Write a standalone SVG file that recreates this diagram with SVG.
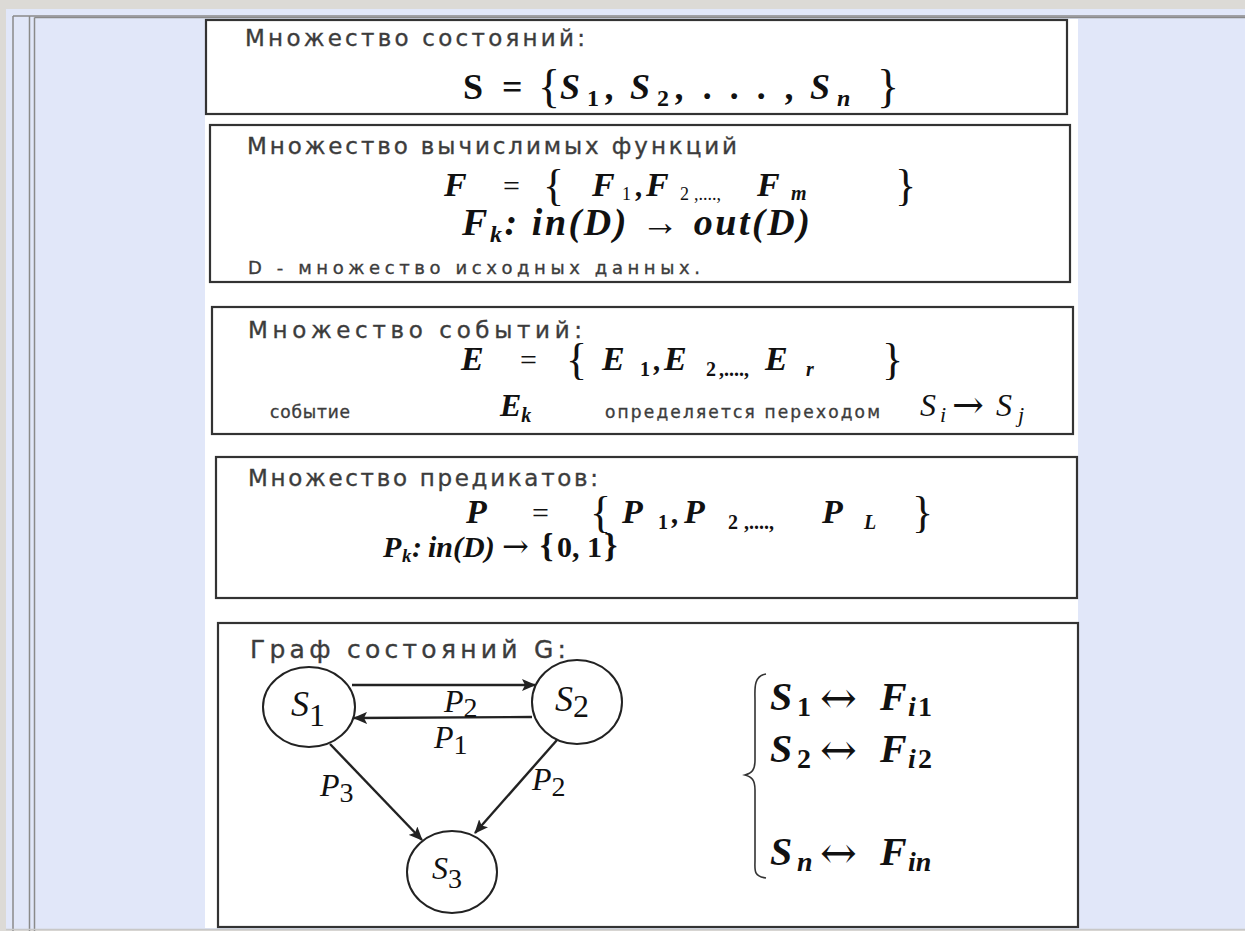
<svg xmlns="http://www.w3.org/2000/svg" width="1245" height="931" viewBox="0 0 1245 931">
<defs>
<style>
.frame{fill:none;stroke:#8a8a8a;stroke-width:1.5}
.box{fill:#fff;stroke:#333;stroke-width:2.2}
.ru{font-family:"DejaVu Sans","Noto Sans",sans-serif;fill:#3c3c3c;stroke:#3c3c3c;stroke-width:0.35}
.m{font-family:"Liberation Serif","Times New Roman",serif;fill:#111}
.bi{font-weight:bold;font-style:italic}
.b{font-weight:bold}
.it{font-style:italic}
.ar{font-family:"DejaVu Serif",serif;font-weight:normal;font-style:normal}
.node{fill:#fff;stroke:#222;stroke-width:2}
.edge{fill:none;stroke:#222;stroke-width:2.4}
</style>
<marker id="ah" viewBox="0 0 14 12" refX="13" refY="6" markerWidth="14" markerHeight="12" markerUnits="userSpaceOnUse" orient="auto">
<path d="M0,0 L14,6 L0,12 L3,6 Z" fill="#222"/>
</marker>
</defs>
<rect x="0" y="0" width="1245" height="931" fill="#dcdad6"/>
<rect x="6" y="9" width="1239" height="920" fill="#e1e7f9"/>
<line class="frame" x1="13" y1="16" x2="1245" y2="16"/>
<line class="frame" x1="13" y1="16" x2="13" y2="931"/>
<line class="frame" x1="29.5" y1="16" x2="29.5" y2="931"/>
<line class="frame" x1="34.5" y1="17.5" x2="34.5" y2="931" stroke="#6d6d6d"/>
<line class="frame" x1="34.5" y1="17.5" x2="1245" y2="17.5" stroke="#6d6d6d"/>
<line x1="6" y1="929.5" x2="1245" y2="929.5" stroke="#c8c8c8" stroke-width="1.5"/>
<rect x="205" y="19" width="873" height="909" fill="#fff"/>

<g id="box-states">
<rect class="box" x="206" y="20" width="861" height="94"/>
<text class="ru" x="245" y="46" font-size="23" textLength="340" lengthAdjust="spacing">Множество состояний:</text>
<text class="m b" font-size="36" y="99"><tspan x="463">S</tspan><tspan x="502">=</tspan></text>
<text class="m" x="538" y="102" font-size="46">{</text>
<text class="m bi" font-size="36" y="99"><tspan x="560">S</tspan><tspan x="587" dy="7" font-size="24" font-style="normal">1</tspan><tspan x="606" dy="-7">,</tspan><tspan x="630">S</tspan><tspan x="657" dy="7" font-size="24" font-style="normal">2</tspan><tspan x="676" dy="-7">,</tspan><tspan x="704">.</tspan><tspan x="731">.</tspan><tspan x="758">.</tspan><tspan x="786">,</tspan><tspan x="810">S</tspan><tspan x="837" dy="7" font-size="24">n</tspan></text>
<text class="m" x="877" y="102" font-size="46">}</text>
</g>

<g id="box-functions">
<rect class="box" x="210" y="125" width="860" height="157"/>
<text class="ru" x="247" y="154" font-size="23" textLength="490" lengthAdjust="spacing">Множество вычислимых функций</text>
<text class="m bi" x="444" y="196" font-size="34">F</text>
<text class="m" x="503" y="196" font-size="30">=</text>
<text class="m" x="543" y="200" font-size="44">{</text>
<text class="m bi" font-size="34" y="196"><tspan x="592">F</tspan><tspan x="622" dy="4" font-size="18" font-style="normal" font-weight="normal">1</tspan><tspan x="636" dy="-4" font-size="30">,</tspan><tspan x="646">F</tspan><tspan x="680" dy="4" font-size="18" font-style="normal" font-weight="normal">2</tspan><tspan x="694" font-size="18" font-style="normal" font-weight="normal">,....,</tspan><tspan x="757" dy="-4">F</tspan><tspan x="791" dy="4" font-size="20">m</tspan></text>
<text class="m" x="895" y="200" font-size="44">}</text>
<text class="m bi" x="462" y="235" font-size="38" textLength="348" lengthAdjust="spacing">F<tspan font-size="24" dy="7">k</tspan><tspan dy="-7">: in(D) → out(D)</tspan></text>
<text class="ru" x="248" y="274" font-size="18" textLength="452" lengthAdjust="spacing">D - множество исходных данных.</text>
</g>

<g id="box-events">
<rect class="box" x="212" y="307" width="861" height="127"/>
<text class="ru" x="248" y="338" font-size="23" textLength="334" lengthAdjust="spacing">Множество событий:</text>
<text class="m bi" x="461" y="370" font-size="34">E</text>
<text class="m" x="520" y="370" font-size="30">=</text>
<text class="m" x="566" y="374" font-size="44">{</text>
<text class="m bi" font-size="34" y="370"><tspan x="602">E</tspan><tspan x="640" dy="6" font-size="20" font-style="normal">1</tspan><tspan x="654" dy="-6" font-size="30">,</tspan><tspan x="664">E</tspan><tspan x="706" dy="6" font-size="20" font-style="normal">2</tspan><tspan x="719" font-size="20" font-style="normal">,....,</tspan><tspan x="765" dy="-6">E</tspan><tspan x="806" dy="6" font-size="20">r</tspan></text>
<text class="m" x="882" y="374" font-size="44">}</text>
<text class="ru" x="270" y="418" font-size="17" textLength="80" lengthAdjust="spacing">событие</text>
<text class="m bi" x="500" y="416" font-size="32">E<tspan font-size="20" dy="6">k</tspan></text>
<text class="ru" x="605" y="418" font-size="17" textLength="275" lengthAdjust="spacing">определяется переходом</text>
<text class="m it" font-size="32" y="416"><tspan x="920">S</tspan><tspan x="940" dy="6" font-size="22">i</tspan><tspan x="952" dy="-4" class="ar" font-size="38">→</tspan><tspan x="996" dy="-2">S</tspan><tspan x="1018" dy="6" font-size="22">j</tspan></text>
</g>

<g id="box-predicates">
<rect class="box" x="216" y="457" width="861" height="141"/>
<text class="ru" x="248" y="486" font-size="23" textLength="350" lengthAdjust="spacing">Множество предикатов:</text>
<text class="m bi" x="466" y="523" font-size="34">P</text>
<text class="m" x="532" y="523" font-size="30">=</text>
<text class="m" x="590" y="527" font-size="44">{</text>
<text class="m bi" font-size="34" y="523"><tspan x="622">P</tspan><tspan x="658" dy="6" font-size="20" font-style="normal">1</tspan><tspan x="672" dy="-6" font-size="30">,</tspan><tspan x="684">P</tspan><tspan x="728" dy="6" font-size="20" font-style="normal">2</tspan><tspan x="744" font-size="20" font-style="normal">,....,</tspan><tspan x="822" dy="-6">P</tspan><tspan x="864" dy="6" font-size="20">L</tspan></text>
<text class="m" x="912" y="527" font-size="44">}</text>
<text class="m bi" font-size="30" y="557"><tspan x="383">P</tspan><tspan x="402" dy="5" font-size="19">k</tspan><tspan x="412" dy="-5">:</tspan><tspan x="428">in(D)</tspan><tspan x="502" class="ar" font-size="32">→</tspan><tspan x="540" font-style="normal" font-size="34">{</tspan><tspan x="557" font-style="normal">0, 1</tspan><tspan x="604" font-style="normal" font-size="34">}</tspan></text>
</g>

<g id="box-graph">
<rect class="box" x="218" y="623" width="860" height="304"/>
<text class="ru" x="250" y="658" font-size="25" textLength="316" lengthAdjust="spacing">Граф состояний G:</text>
</g>

<g id="connectors">
<line class="edge" x1="352" y1="685" x2="535" y2="685" marker-end="url(#ah)"/>
<line class="edge" x1="532" y1="717" x2="354" y2="718" marker-end="url(#ah)"/>
<line class="edge" x1="330" y1="744" x2="422" y2="840" marker-end="url(#ah)"/>
<line class="edge" x1="557" y1="740" x2="475" y2="833" marker-end="url(#ah)"/>
<text class="m it" x="444" y="712" font-size="32">P<tspan font-size="28" font-style="normal" dy="5">2</tspan></text>
<text class="m it" x="434" y="748" font-size="32">P<tspan font-size="28" font-style="normal" dy="6">1</tspan></text>
<text class="m it" x="320" y="796" font-size="32">P<tspan font-size="28" font-style="normal" dy="6">3</tspan></text>
<text class="m it" x="532" y="790" font-size="32">P<tspan font-size="28" font-style="normal" dy="6">2</tspan></text>
</g>

<g id="node-s1">
<ellipse class="node" cx="309" cy="707" rx="46" ry="40"/>
<text class="m it" x="291" y="716" font-size="36">S<tspan font-style="normal" font-size="32" dy="10">1</tspan></text>
</g>
<g id="node-s2">
<ellipse class="node" cx="577" cy="702" rx="45" ry="42"/>
<text class="m it" x="555" y="711" font-size="36">S<tspan font-style="normal" font-size="32" dy="6">2</tspan></text>
</g>
<g id="node-s3">
<ellipse class="node" cx="452" cy="872" rx="45" ry="41"/>
<text class="m it" x="432" y="879" font-size="32">S<tspan font-style="normal" font-size="28" dy="9">3</tspan></text>
</g>

<g id="mapping">
<path d="M766,674 C753,676 755,690 755,700 L755,760 C755,770 752,773 745,775 C752,777 755,780 755,790 L755,860 C755,870 753,876 766,878" fill="none" stroke="#333" stroke-width="1.6"/>
<text class="m bi" font-size="40" y="710"><tspan x="770">S</tspan><tspan x="797" dy="6" font-size="28" font-style="normal">1</tspan><tspan x="820" dy="-3" class="ar" font-size="44">↔</tspan><tspan x="880" dy="-3">F</tspan><tspan x="908" dy="6" font-size="28">i</tspan><tspan x="918" font-size="28" font-style="normal">1</tspan></text>
<text class="m bi" font-size="40" y="762"><tspan x="770">S</tspan><tspan x="797" dy="6" font-size="28" font-style="normal">2</tspan><tspan x="820" dy="-3" class="ar" font-size="44">↔</tspan><tspan x="880" dy="-3">F</tspan><tspan x="908" dy="6" font-size="28">i</tspan><tspan x="918" font-size="28" font-style="normal">2</tspan></text>
<text class="m bi" font-size="40" y="865"><tspan x="770">S</tspan><tspan x="797" dy="6" font-size="28">n</tspan><tspan x="820" dy="-3" class="ar" font-size="44">↔</tspan><tspan x="880" dy="-3">F</tspan><tspan x="908" dy="6" font-size="28">in</tspan></text>
</g>
</svg>
